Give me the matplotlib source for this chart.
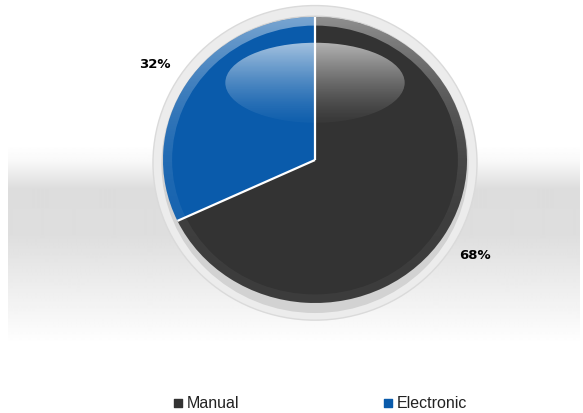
import numpy as np
import matplotlib.pyplot as plt
from matplotlib.patches import Ellipse, Wedge

categories = ['Manual', 'Electronic']
shares = [68, 32]
colors = ['#333333', '#0a5bab']

W, H = 583, 413
fig = plt.figure(figsize=(W / 100, H / 100), dpi=100)
fig.patch.set_facecolor('white')

# background axes in pixel units
ax_bg = fig.add_axes([0, 0, 1, 1])
ax_bg.set_xlim(0, W)
ax_bg.set_ylim(H, 0)
ax_bg.axis('off')

# soft grey band behind the pie
ys = np.linspace(0, 1, 200)
shade = np.interp(ys, [0, 0.08, 0.22, 0.45, 0.75, 1.0],
                  [1.0, 0.975, 0.865, 0.87, 0.94, 1.0])
band = np.repeat(shade[:, None], 2, axis=1)
ax_bg.imshow(band, cmap='gray', vmin=0, vmax=1, extent=[8, 580, 345, 145],
             origin='upper', aspect='auto', interpolation='bilinear', zorder=0)

# legend along the bottom
for i, (name, col) in enumerate(zip(categories, colors)):
    x0 = 178 + i * 210
    ax_bg.scatter([x0], [403], marker='s', s=30, color=col, zorder=3)
    ax_bg.text(x0 + 9, 403, name, fontsize=11.5, family='Liberation Sans',
               color='#222222', va='center', ha='left')

# pie axes: the pie is slightly wider than tall
cx, cy, rx, ry = 315, 160, 152, 143
half_w, half_h = 172, 165
ax = fig.add_axes([(cx - half_w) / W, (H - cy - half_h) / H,
                   2 * half_w / W, 2 * half_h / H])
ax.set_facecolor('none')

# outer ring and grey rim behind the pie
ax.add_patch(Ellipse((0, -0.02), 2 * 1.066, 2 * 1.10, facecolor='#ececec',
                     edgecolor='#dadada', lw=1, zorder=0))
ax.add_patch(Ellipse((0, -0.03), 2 * 1.01, 2 * 1.04, facecolor='#d2d2d2',
                     edgecolor='none', zorder=0.5))

wedges, _, autotexts = ax.pie(shares, colors=colors, startangle=90,
                              counterclock=False, radius=1, frame=True,
                              autopct='%1.0f%%', pctdistance=1.25,
                              wedgeprops=dict(linewidth=0))
for t in autotexts:
    t.set_fontsize(9.5)
    t.set_fontweight('bold')
    t.set_family('DejaVu Sans Condensed')
    t.set_color('black')

# lighter rim, strongest along the top edge
rim = Wedge((0, 0), 1.0, 0, 360, width=0.06, facecolor='none', edgecolor='none')
ax.add_patch(rim)
ry_grid = np.linspace(0, 1, 100)
rim_rgba = np.ones((100, 2, 4))
rim_rgba[:, :, 3] = (0.05 + 0.4 * (1 - ry_grid) ** 3)[:, None]
rim_im = ax.imshow(rim_rgba, extent=[-1, 1, -1, 1], origin='upper',
                   aspect='auto', interpolation='bilinear', zorder=3)
rim_im.set_clip_path(rim)

# white separators between slices
bounds = 90 - 360 * np.cumsum([0] + shares[:-1]) / sum(shares)
for a in np.radians(bounds):
    ax.plot([0, np.cos(a)], [0, np.sin(a)], color='white', lw=1.6,
            zorder=5, solid_capstyle='butt')

# glossy highlight near the top
gloss = Ellipse((0, 0.54), 1.18, 0.56, facecolor='none', edgecolor='none')
ax.add_patch(gloss)
gy = np.linspace(0, 1, 100)
rgba = np.ones((100, 2, 4))
rgba[:, :, 3] = (0.6 * (1 - gy) ** 1.3 + 0.03)[:, None]
im = ax.imshow(rgba, extent=[-0.59, 0.59, 0.26, 0.82], origin='upper',
               aspect='auto', interpolation='bilinear', zorder=4)
im.set_clip_path(gloss)

ax.set_xlim(-half_w / rx, half_w / rx)
ax.set_ylim(-half_h / ry, half_h / ry)
ax.set_aspect('auto')
ax.axis('off')

fig.savefig('out.png', dpi=100)
